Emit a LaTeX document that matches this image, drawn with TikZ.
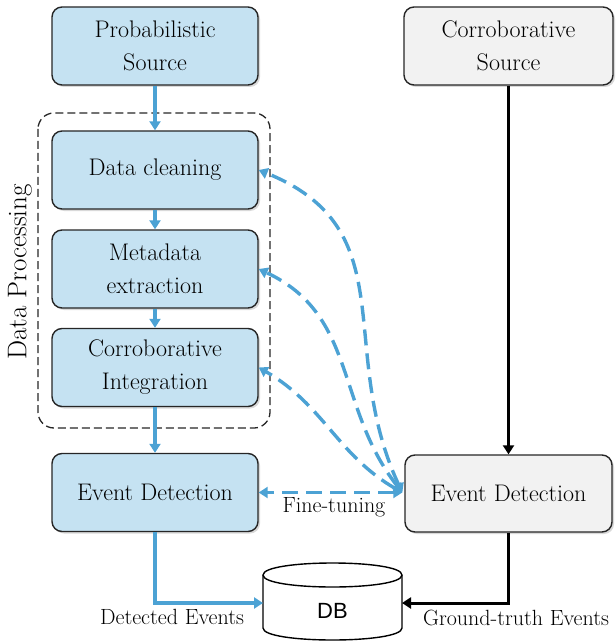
\documentclass[tikz,border=0pt]{standalone}
\usepackage{fontspec}
\newfontfamily\dbfont{Liberation Sans}
\usetikzlibrary{shapes.geometric,shadows,arrows.meta,calc}
\definecolor{boxblue}{RGB}{197,226,242}
\definecolor{boxgray}{RGB}{242,242,242}
\definecolor{arrblue}{RGB}{76,162,212}
\begin{document}
\begin{tikzpicture}[x=1pt,y=-1pt,
  box/.style={draw=black!85, line width=1.4pt, rounded corners=10pt, align=center,
    minimum width=206pt, minimum height=78pt, inner sep=2pt,
    font=\fontsize{24}{33}\selectfont,
    drop shadow={opacity=0.3, shadow xshift=2pt, shadow yshift=-2pt}},
  bbox/.style={box, fill=boxblue},
  gbox/.style={box, fill=boxgray},
  barrow/.style={draw=arrblue, line width=3.4pt, -{Triangle[length=9pt,width=11pt]}},
  karrow/.style={draw=black, line width=3pt, -{Triangle[length=9pt,width=11pt]}},
  darrow/.style={draw=arrblue, line width=3.4pt, dash pattern=on 16pt off 8pt,
    {Triangle[length=9pt,width=11pt]}-{Triangle[length=9pt,width=11pt]}},
  lbl/.style={font=\fontsize{22}{24}\selectfont, inner sep=1pt}
]
\useasboundingbox (0,0) rectangle (615,644);
% dashed group
\draw[black!85, line width=1.3pt, dash pattern=on 8pt off 4pt, rounded corners=16pt]
  (38,113) rectangle (270,428);
\node[rotate=90, font=\fontsize{27}{30}\selectfont] (dp) at (20,272) {Data Processing};
% left column
\node[bbox] (ps) at (155,46) {Probabilistic\\Source};
\node[bbox] (dc) at (155,170) {Data cleaning};
\node[bbox] (me) at (155,269) {Metadata\\extraction};
\node[bbox] (ci) at (155,367.5) {Corroborative\\Integration};
\node[bbox] (edl) at (155,492.5) {Event Detection};
% right column
\node[gbox, minimum width=209pt] (cs) at (508.5,46) {Corroborative\\Source};
\node[gbox, minimum width=207pt, minimum height=77pt] (edr) at (508.5,493.5) {Event Detection};
% DB
\draw[line width=1.4pt, fill=white]
  (263,575) -- (263,628) .. controls (263,644) and (402,644) .. (402,628) -- (402,575)
  .. controls (402,559) and (263,559) .. (263,575) -- cycle;
\draw[line width=1.4pt] (263,575) .. controls (263,591) and (402,591) .. (402,575);
\node[font=\dbfont\fontsize{22}{24}\selectfont] (db) at (332.5,611) {DB};
% arrows
\draw[barrow] (ps) -- (dc);
\draw[barrow] (dc) -- (me);
\draw[barrow] (me) -- (ci);
\draw[barrow] (ci) -- (edl);
\draw[karrow] (cs) -- (edr);
\coordinate (dbl) at (263,603);
\coordinate (dbr) at (402,603);
\draw[barrow] (edl.south) |- (dbl);
\draw[karrow] (edr.south) |- (dbr);
\node[lbl] (l1) at (172,617) {Detected Events};
\node[lbl] (l2) at (516,618) {Ground-truth Events};
% dashed feedback
\coordinate (e0) at ($(edr.west)+(-2,-1)$);
\draw[darrow] (e0) -- (edl.east);
\node[lbl] (l3) at (334,507) {Fine-tuning};
\draw[darrow] (e0) to[out=115, in=-22, looseness=1.15] (dc.east);
\draw[darrow] (e0) to[out=128, in=-25, looseness=1.05] (me.east);
\draw[darrow] (e0) to[out=150, in=-30, looseness=1.0] (ci.east);
\end{tikzpicture}
\end{document}
